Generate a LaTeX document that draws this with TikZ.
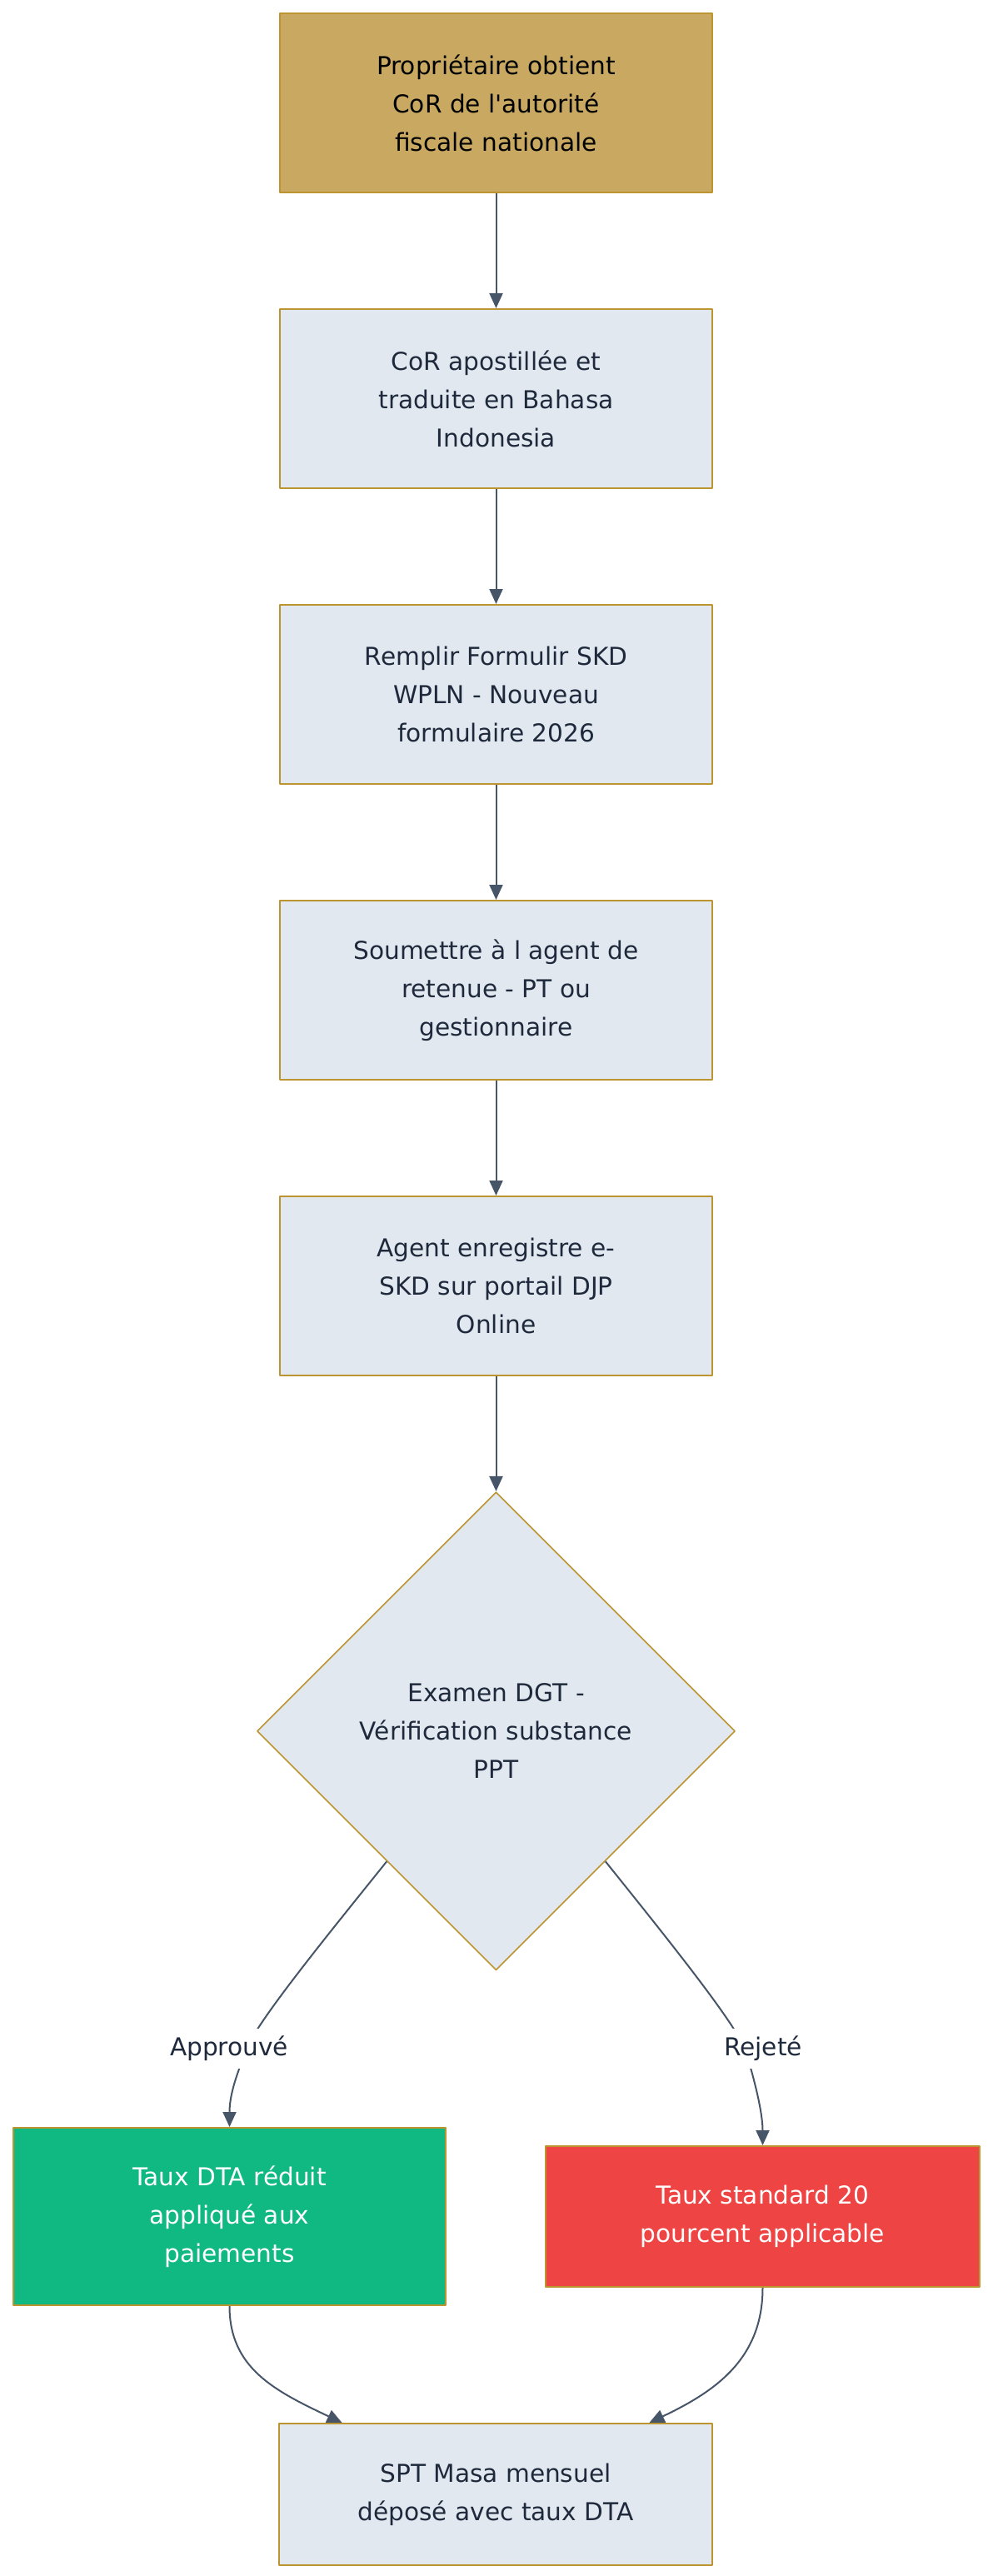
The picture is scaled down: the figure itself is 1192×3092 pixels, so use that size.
\documentclass[tikz,border=0pt]{standalone}
\usepackage{fontspec}
\setmainfont{DejaVu Sans}
\usetikzlibrary{positioning,shapes.geometric,arrows.meta}
\definecolor{boxfill}{HTML}{E2E8F0}
\definecolor{bordure}{RGB}{188,148,48}
\definecolor{orfill}{RGB}{201,168,98}
\definecolor{vert}{HTML}{10B981}
\definecolor{rouge}{HTML}{EF4444}
\definecolor{texte}{HTML}{1E293B}
\definecolor{trait}{HTML}{475569}
\begin{document}
\begin{tikzpicture}[x=.5pt,y=-.5pt,>={Triangle[length=9pt,width=8pt]},line join=round,
	font=\fontsize{14.8}{23}\selectfont,node distance=69pt,
	etape/.style={draw=bordure,line width=1pt,fill=boxfill,text=texte,align=center,
		minimum width=259.5pt,minimum height=107.5pt,inner sep=0pt},
	decision/.style={diamond,aspect=1,draw=bordure,line width=.8pt,fill=boxfill,text=texte,
		align=center,minimum width=287pt,minimum height=287pt,inner sep=0pt},
	fleche/.style={draw=trait,line width=1pt,->},
	etiq/.style={fill=white,text=texte,inner xsep=2pt,inner ysep=4.5pt}]
	\useasboundingbox (0,0) rectangle (1192,3092);
	% chaine principale
	\node[etape,fill=orfill,text=black] (cor) at (595.5,123.5) {Propriétaire obtient\\CoR de l\textquotesingle autorité\\fiscale nationale};
	\node[etape,below=of cor] (apost) {CoR apostillée et\\traduite en Bahasa\\Indonesia};
	\node[etape,below=of apost] (wpln) {Remplir Formulir SKD\\WPLN - Nouveau\\formulaire 2026};
	\node[etape,below=of wpln] (agent) {Soumettre à l agent de\\retenue - PT ou\\gestionnaire};
	\node[etape,below=of agent] (enreg) {Agent enregistre e-\\SKD sur portail DJP\\Online};
	\node[decision,below=of enreg] (examen) {Examen DGT -\\Vérification substance\\PPT};
	% issues
	\node[etape,fill=vert,text=white,minimum height=106.5pt] (dta) at (275.5,2660.5) {Taux DTA réduit\\appliqué aux\\paiements};
	\node[etape,fill=rouge,text=white,minimum width=260.5pt,minimum height=84.5pt] (std) at (915.5,2660.5) {Taux standard 20\\pourcent applicable};
	\node[etape,minimum width=260pt,minimum height=85pt] (spt) at (595,2994) {SPT Masa mensuel\\déposé avec taux DTA};
	\path (296,2459) coordinate (mA)
	(894,2459) coordinate (mR);
	\foreach \a/\b in {cor/apost,apost/wpln,wpln/agent,agent/enreg,enreg/examen}
	\draw[fleche] (\a) -- (\b);
	\draw[fleche] (examen.230) .. controls +(-60,75) and +(14,-35) .. (mA)
	.. controls +(-6,18) and +(0,-45) .. (dta.north);
	\draw[fleche] (examen.310) .. controls +(60,75) and +(-14,-35) .. (mR)
	.. controls +(6,18) and +(0,-45) .. (std.north);
	\draw[fleche] (dta.south) .. controls +(0,75) and +(-80,-38) .. (spt.155);
	\draw[fleche] (std.south) .. controls +(0,85) and +(80,-38) .. (spt.25);
	\node[etiq] (okA) at (275,2459) {Approuvé};
	\node[etiq] (okR) at (916,2459) {Rejeté};
\end{tikzpicture}
\end{document}
